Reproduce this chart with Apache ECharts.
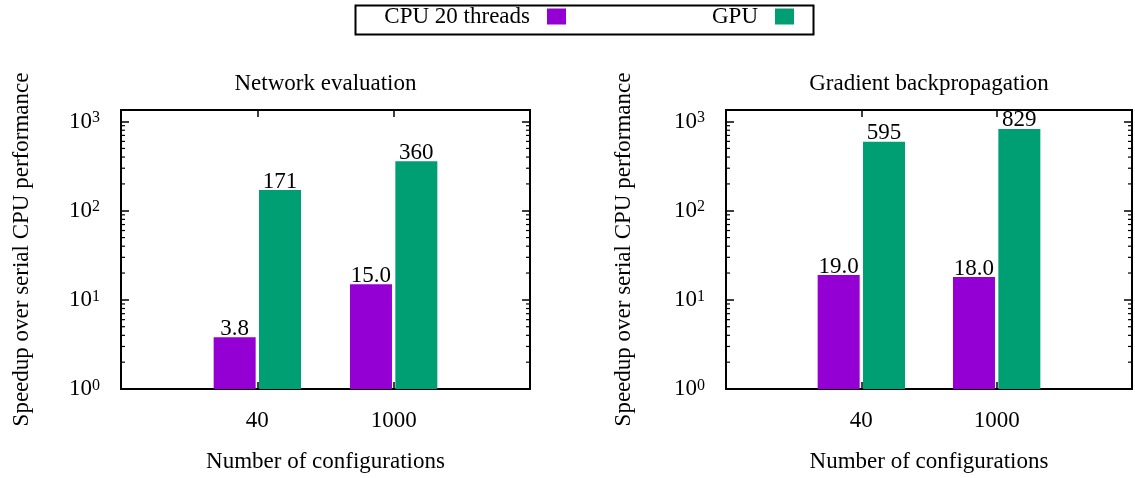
<!DOCTYPE html>
<html>
<head>
<meta charset="utf-8">
<script src="https://cdn.jsdelivr.net/npm/echarts@6/dist/echarts.min.js"></script>
<style>
html,body{margin:0;padding:0;background:#fff;}
#chart{width:1135px;height:478px;}
</style>
</head>
<body>
<div id="chart"></div>
<script>
// ---- data ----
const categories = ['40', '1000'];
const cpuEval = [3.8, 15.0];
const gpuEval = [171, 360];
const cpuGrad = [19.0, 18.0];
const gpuGrad = [595, 829];
const panelTitles = ['Network evaluation', 'Gradient backpropagation'];
const seriesNames = ['CPU 20 threads', 'GPU'];
const minorTickValues = [2,3,4,5,6,7,8,9,20,30,40,50,60,70,80,90,200,300,400,500,600,700,800,900];
const yMin = 1, yMax = 1350;

const FONT = "'Liberation Serif', 'Times New Roman', serif";
const FS = 23;
const colors = ['#9400d3', '#009e73'];

const grids = [
  {left: 121, top: 110, width: 409, height: 280},
  {left: 726, top: 110, width: 407, height: 280}
];

function toXY(arr){ return arr.map((v,i)=>[i, v]); }

const xAxes = [], yAxes = [], series = [];
grids.forEach((g, gi) => {
  // bottom x
  xAxes.push({
    type: 'value', gridIndex: gi, position: 'bottom', min: -1, max: 2, interval: 1,
    axisLine: {show: false, onZero: false}, splitLine: {show: false},
    axisTick: {show: true, inside: true, length: 7, lineStyle: {color: '#000', width: 1.5}},
    axisLabel: {show: true, margin: 20, color: '#000', fontFamily: FONT, fontSize: FS,
      formatter: v => (Number.isInteger(v) && v >= 0 && v < categories.length) ? categories[v] : ''},
    name: 'Number of configurations', nameLocation: 'middle', nameGap: 61,
    nameTextStyle: {color: '#000', fontFamily: FONT, fontSize: FS}
  });
  // top x
  xAxes.push({
    type: 'value', gridIndex: gi, position: 'top', min: -1, max: 2, interval: 1,
    axisLine: {show: false, onZero: false}, splitLine: {show: false},
    axisTick: {show: true, inside: true, length: 7, lineStyle: {color: '#000', width: 1.5}},
    axisLabel: {show: false},
    name: panelTitles[gi], nameLocation: 'middle', nameGap: 15,
    nameTextStyle: {color: '#000', fontFamily: FONT, fontSize: FS}
  });
  // left y
  yAxes.push({
    type: 'log', logBase: 10, gridIndex: gi, position: 'left', min: yMin, max: yMax,
    axisLine: {show: false, onZero: false}, splitLine: {show: false},
    axisTick: {show: true, inside: true, length: 8, lineStyle: {color: '#000', width: 1.5}},
    axisLabel: {show: true, margin: 21, color: '#000', fontFamily: FONT, fontSize: FS,
      formatter: v => {
        const e = Math.log10(v);
        if (Math.abs(e - Math.round(e)) > 1e-6) return '';
        return '{b|10}{s|' + Math.round(e) + '}';
      },
      rich: {
        b: {fontFamily: FONT, fontSize: FS, color: '#000'},
        s: {fontFamily: FONT, fontSize: 16, color: '#000', verticalAlign: 'top', padding: [0, 0, 4, 0]}
      }
    },
    name: 'Speedup over serial CPU performance', nameLocation: 'middle', nameGap: gi === 0 ? 88 : 91,
    nameTextStyle: {color: '#000', fontFamily: FONT, fontSize: FS}
  });
  // right y
  yAxes.push({
    type: 'log', logBase: 10, gridIndex: gi, position: 'right', min: yMin, max: yMax,
    axisLine: {show: false, onZero: false}, splitLine: {show: false},
    axisTick: {show: true, inside: true, length: 8, lineStyle: {color: '#000', width: 1.5}},
    axisLabel: {show: false}
  });
});

const panelData = [[cpuEval, gpuEval], [cpuGrad, gpuGrad]];
panelData.forEach((pd, gi) => {
  pd.forEach((vals, si) => {
    series.push({
      type: 'bar', name: seriesNames[si], xAxisIndex: gi * 2, yAxisIndex: gi * 2,
      data: toXY(vals), barWidth: 42, barGap: '8%',
      itemStyle: {color: colors[si]},
      label: {show: true, position: 'top', distance: -3, color: '#000', fontFamily: FONT, fontSize: FS,
        formatter: p => si === 0 ? p.value[1].toFixed(1) : String(Math.round(p.value[1]))}
    });
  });
  series.push({
    type: 'custom', xAxisIndex: gi * 2, yAxisIndex: gi * 2, silent: true, clip: false,
    data: minorTickValues.map(v => [0, v]),
    encode: {x: 0, y: 1},
    renderItem: (params, api) => {
      const v = api.value(1);
      const l = api.coord([-1, v]);
      const r = api.coord([2, v]);
      return {type: 'group', children: [
        {type: 'line', shape: {x1: l[0], y1: l[1], x2: l[0] + 4, y2: l[1]}, style: {stroke: '#000', lineWidth: 1.2}},
        {type: 'line', shape: {x1: r[0], y1: r[1], x2: r[0] - 4, y2: r[1]}, style: {stroke: '#000', lineWidth: 1.2}}
      ]};
    }
  });
});

const legendCommon = {
  orient: 'horizontal', align: 'right', top: 5, padding: 0, itemWidth: 19, itemHeight: 16,
  icon: 'rect', selectedMode: false,
  textStyle: {color: '#000', fontFamily: FONT, fontSize: FS, padding: [0, 12, 0, 0]}
};

const option = {
  animation: false,
  backgroundColor: '#fff',
  grid: grids.map(g => Object.assign({show: true, borderColor: '#000', borderWidth: 2, backgroundColor: 'transparent', containLabel: false}, g)),
  xAxis: xAxes,
  yAxis: yAxes,
  legend: [
    Object.assign({}, legendCommon, {data: [seriesNames[0]], right: 1135 - 566}),
    Object.assign({}, legendCommon, {data: [seriesNames[1]], right: 1135 - 794})
  ],
  graphic: [{
    type: 'rect', left: 353, top: 3, silent: true,
    shape: {width: 458, height: 29},
    style: {fill: 'none', stroke: '#000', lineWidth: 2}
  }],
  series: series
};

const chart = echarts.init(document.getElementById('chart'), null, {renderer: 'canvas'});
chart.setOption(option);
</script>
</body>
</html>
